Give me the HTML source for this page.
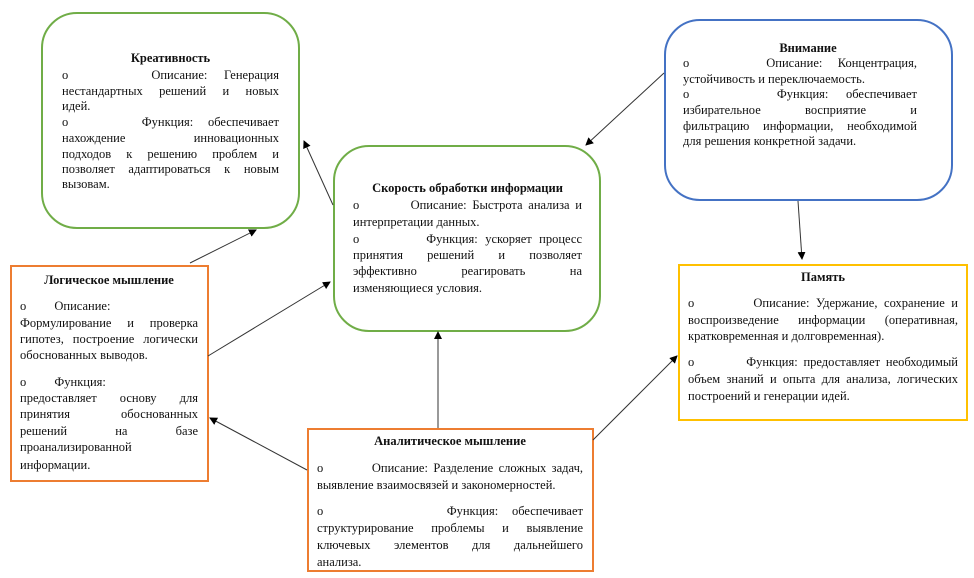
<!DOCTYPE html>
<html><head><meta charset="utf-8"><style>
body{margin:0;width:974px;height:578px;background:#fff;position:relative;overflow:hidden;font-family:"Liberation Serif",serif;color:#111}
.b{position:absolute;box-sizing:border-box}
.t{position:absolute;font-size:12.5px;line-height:16px;white-space:nowrap}
.j{text-align:justify;text-align-last:justify;white-space:normal}
.h{font-weight:bold;text-align:center}
svg{position:absolute;left:0;top:0}
</style></head><body>
<div class="b" style="left:41px;top:12px;width:259px;height:217px;border:2px solid #70ad47;border-radius:36px"></div>
<div class="b" style="left:10px;top:265px;width:199px;height:217px;border:2px solid #ed7d31"></div>
<div class="b" style="left:333px;top:145px;width:268px;height:187px;border:2px solid #70ad47;border-radius:36px"></div>
<div class="b" style="left:664px;top:19px;width:289px;height:182px;border:2px solid #4472c4;border-radius:36px"></div>
<div class="b" style="left:678px;top:264px;width:290px;height:157px;border:2px solid #ffc000"></div>
<div class="b" style="left:307px;top:428px;width:287px;height:144px;border:2px solid #ed7d31"></div>

<svg width="974" height="578">
<defs><marker id="a" markerWidth="8" markerHeight="8" refX="7" refY="4" orient="auto" markerUnits="userSpaceOnUse"><path d="M0,0 L8,4 L0,8z" fill="#000"/></marker></defs>
<g stroke="#333" stroke-width="1" marker-end="url(#a)">
<line x1="333" y1="205" x2="304" y2="141"/>
<line x1="190" y1="263" x2="256" y2="230"/>
<line x1="208" y1="356" x2="330" y2="282"/>
<line x1="664" y1="73" x2="586" y2="145"/>
<line x1="798" y1="201" x2="802" y2="259"/>
<line x1="438" y1="428" x2="438" y2="332"/>
<line x1="307" y1="470" x2="210" y2="418"/>
<line x1="593" y1="440" x2="677" y2="356"/>
</g></svg>

<!-- Креативность -->
<div class="t h" style="left:62px;width:217px;top:50px">Креативность</div>
<div class="t j" style="left:62px;width:217px;top:67px">о&nbsp;&nbsp;&nbsp;&nbsp; Описание: Генерация</div>
<div class="t j" style="left:62px;width:217px;top:83px">нестандартных решений и новых</div>
<div class="t" style="left:62px;top:98px">идей.</div>
<div class="t j" style="left:62px;width:217px;top:114px">о&nbsp;&nbsp;&nbsp;&nbsp; Функция: обеспечивает</div>
<div class="t j" style="left:62px;width:217px;top:130px">нахождение инновационных</div>
<div class="t j" style="left:62px;width:217px;top:146px">подходов к решению проблем и</div>
<div class="t j" style="left:62px;width:217px;top:161px">позволяет адаптироваться к новым</div>
<div class="t" style="left:62px;top:176px">вызовам.</div>

<!-- Логическое -->
<div class="t h" style="left:20px;width:178px;top:272px">Логическое мышление</div>
<div class="t" style="left:20px;top:298px">о&nbsp;&nbsp;&nbsp;&nbsp;&nbsp;&nbsp;&nbsp;&nbsp; Описание:</div>
<div class="t j" style="left:20px;width:178px;top:315px">Формулирование и проверка</div>
<div class="t j" style="left:20px;width:178px;top:331px">гипотез, построение логически</div>
<div class="t" style="left:20px;top:347px">обоснованных выводов.</div>
<div class="t" style="left:20px;top:374px">о&nbsp;&nbsp;&nbsp;&nbsp;&nbsp;&nbsp;&nbsp;&nbsp; Функция:</div>
<div class="t j" style="left:20px;width:178px;top:390px">предоставляет основу для</div>
<div class="t j" style="left:20px;width:178px;top:406px">принятия обоснованных</div>
<div class="t j" style="left:20px;width:178px;top:423px">решений на базе</div>
<div class="t" style="left:20px;top:439px">проанализированной</div>
<div class="t" style="left:20px;top:457px">информации.</div>

<!-- Скорость -->
<div class="t h" style="left:353px;width:229px;top:180px">Скорость обработки информации</div>
<div class="t j" style="left:353px;width:229px;top:197px">о&nbsp;&nbsp;&nbsp;&nbsp;&nbsp;&nbsp;&nbsp;&nbsp; Описание: Быстрота анализа и</div>
<div class="t" style="left:353px;top:214px">интерпретации данных.</div>
<div class="t j" style="left:353px;width:229px;top:231px">о&nbsp;&nbsp;&nbsp;&nbsp;&nbsp;&nbsp;&nbsp;&nbsp; Функция: ускоряет процесс</div>
<div class="t j" style="left:353px;width:229px;top:247px">принятия решений и позволяет</div>
<div class="t j" style="left:353px;width:229px;top:263px">эффективно реагировать на</div>
<div class="t" style="left:353px;top:280px">изменяющиеся условия.</div>

<!-- Внимание -->
<div class="t h" style="left:683px;width:250px;top:40px">Внимание</div>
<div class="t j" style="left:683px;width:234px;top:55px">о&nbsp;&nbsp;&nbsp;&nbsp; Описание: Концентрация,</div>
<div class="t" style="left:683px;top:71px">устойчивость и переключаемость.</div>
<div class="t j" style="left:683px;width:234px;top:86px">о&nbsp;&nbsp;&nbsp;&nbsp; Функция: обеспечивает</div>
<div class="t j" style="left:683px;width:234px;top:102px">избирательное восприятие и</div>
<div class="t j" style="left:683px;width:234px;top:118px">фильтрацию информации, необходимой</div>
<div class="t" style="left:683px;top:133px">для решения конкретной задачи.</div>

<!-- Память -->
<div class="t h" style="left:688px;width:270px;top:269px">Память</div>
<div class="t j" style="left:688px;width:270px;top:295px">о&nbsp;&nbsp;&nbsp;&nbsp;&nbsp;&nbsp;&nbsp;&nbsp; Описание: Удержание, сохранение и</div>
<div class="t j" style="left:688px;width:270px;top:312px">воспроизведение информации (оперативная,</div>
<div class="t" style="left:688px;top:328px">кратковременная и долговременная).</div>
<div class="t j" style="left:688px;width:270px;top:354px">о&nbsp;&nbsp;&nbsp;&nbsp;&nbsp;&nbsp;&nbsp;&nbsp; Функция: предоставляет необходимый</div>
<div class="t j" style="left:688px;width:270px;top:371px">объем знаний и опыта для анализа, логических</div>
<div class="t" style="left:688px;top:388px">построений и генерации идей.</div>

<!-- Аналитическое -->
<div class="t h" style="left:317px;width:266px;top:433px">Аналитическое мышление</div>
<div class="t j" style="left:317px;width:266px;top:460px">о&nbsp;&nbsp;&nbsp;&nbsp;&nbsp;&nbsp;&nbsp;&nbsp; Описание: Разделение сложных задач,</div>
<div class="t" style="left:317px;top:477px">выявление взаимосвязей и закономерностей.</div>
<div class="t j" style="left:317px;width:266px;top:503px">о&nbsp;&nbsp;&nbsp;&nbsp;&nbsp;&nbsp;&nbsp;&nbsp; Функция: обеспечивает</div>
<div class="t j" style="left:317px;width:266px;top:520px">структурирование проблемы и выявление</div>
<div class="t j" style="left:317px;width:266px;top:537px">ключевых элементов для дальнейшего</div>
<div class="t" style="left:317px;top:554px">анализа.</div>
</body></html>
